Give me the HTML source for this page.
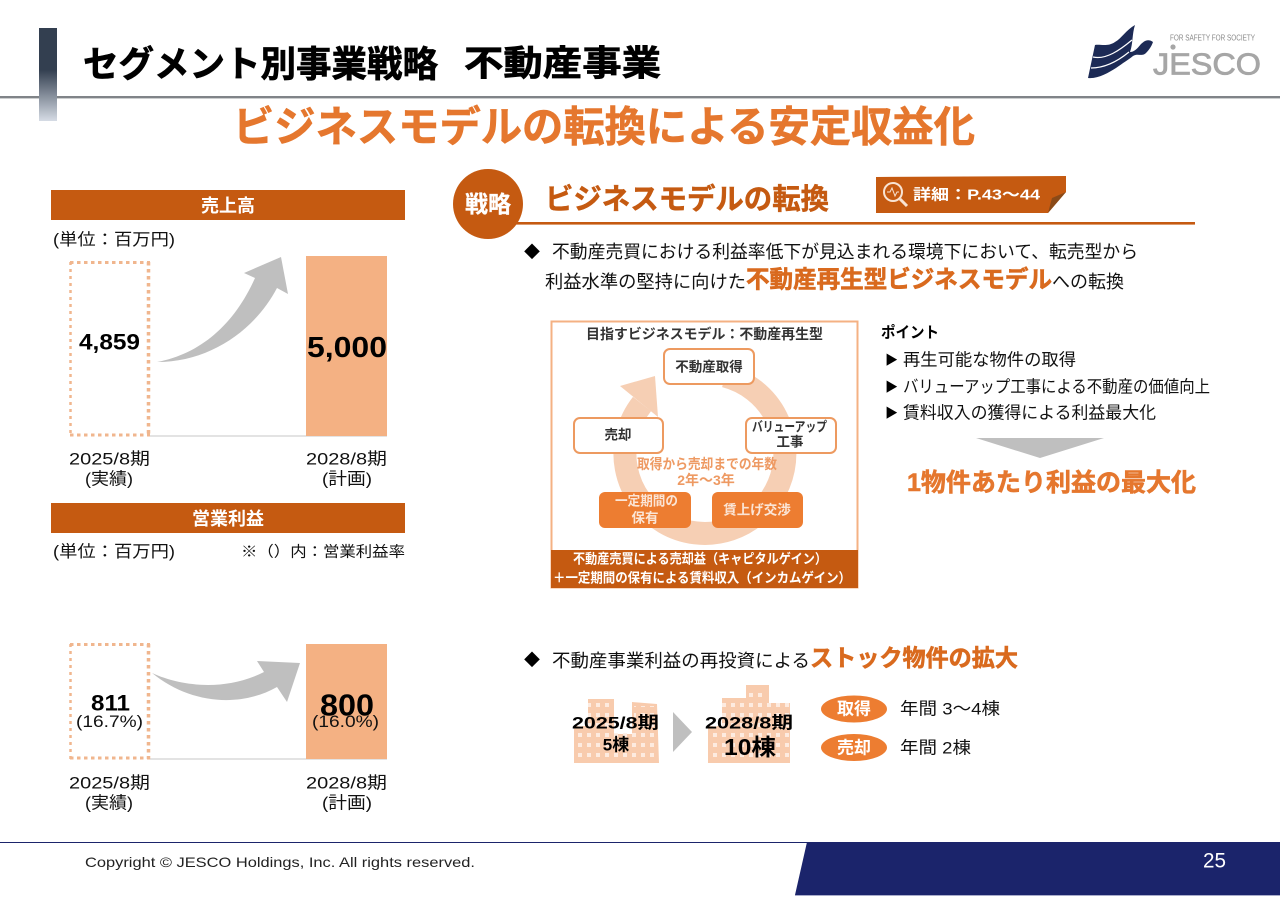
<!DOCTYPE html>
<html lang="ja">
<head>
<meta charset="utf-8">
<title>セグメント別事業戦略 不動産事業</title>
<style>
html,body{margin:0;padding:0;background:#fff;width:1280px;height:904px;overflow:hidden}
svg{display:block;position:absolute;left:0;top:0}
text{font-family:"Liberation Sans","Noto Sans CJK JP",sans-serif;dominant-baseline:central;fill:#111;transform:translateY(1px)}
.b{font-weight:700}
.o{fill:#E5772E;font-weight:700}
.d{fill:#C55A11;font-weight:700}
.w{fill:#fff;font-weight:700}
.hk{stroke:#000;stroke-width:.7}
.ho{stroke:#E5772E;stroke-width:.6}
.hr{stroke:#D96A1E;stroke-width:.6}
.hd{stroke:#C55A11;stroke-width:.5}
.hw{stroke:#fff;stroke-width:.3}
</style>
</head>
<body>
<svg width="1280" height="904" viewBox="0 0 1280 904" xmlns="http://www.w3.org/2000/svg">
<defs>
<linearGradient id="g" x1="0" y1="0" x2="0" y2="1">
<stop offset="0" stop-color="#333F50"/><stop offset=".45" stop-color="#333F50"/><stop offset="1" stop-color="#D6DCE5"/>
</linearGradient>
<pattern id="win" x="0" y="0" width="9" height="10" patternUnits="userSpaceOnUse">
<rect x="2" y="3" width="4" height="4" fill="#FDEFE6"/>
</pattern>
</defs>

<!-- header -->
<rect x="0" y="96" width="1280" height="2.4" fill="#808488"/>
<rect x="39" y="28" width="18" height="93" fill="url(#g)"/>
<text class="b hk" x="83" y="63" font-size="36" style="fill:#000" textLength="355" lengthAdjust="spacingAndGlyphs">セグメント別事業戦略</text>
<text class="b hk" x="464" y="63" font-size="35" style="fill:#000" textLength="197" lengthAdjust="spacingAndGlyphs">不動産事業</text>
<text class="o ho" x="233" y="126" font-size="42" textLength="742" lengthAdjust="spacingAndGlyphs">ビジネスモデルの転換による安定収益化</text>

<!-- logo -->
<path d="M1135 25 C1126 30 1122 38 1115 42 C1108 47 1100 44 1095 45 L1088 78 C1098 79 1108 73 1116 68 C1123 63 1128 60 1133 56 C1138 53 1142 57 1146 53 C1150 49 1152 45 1153 42 C1149 39 1145 40 1141 44 C1137 49 1134 52 1130 52 C1133 44 1132 34 1135 25 Z" fill="#1C2A55"/>
<path d="M1093 57 C1106 60 1120 50 1132 40 M1091 68 C1105 68 1118 61 1129 52" stroke="#fff" stroke-width="1.2" fill="none"/>
<text x="1170" y="37" font-size="8" style="fill:#888" textLength="85" lengthAdjust="spacingAndGlyphs">FOR SAFETY FOR SOCIETY</text>
<circle cx="1173" cy="47" r="2.6" fill="#A6A6A6"/>
<text x="1153" y="63" font-size="31" style="fill:#A6A6A6;stroke:#A6A6A6;stroke-width:.8" textLength="108" lengthAdjust="spacingAndGlyphs">JESCO</text>

<!-- left: sales -->
<rect x="51" y="190" width="354" height="30" fill="#C55A11"/>
<text class="w" x="228" y="205" font-size="18" text-anchor="middle" style="fill:#fff">売上高</text>
<text x="53" y="239" font-size="16.5" textLength="122" lengthAdjust="spacingAndGlyphs">(単位：百万円)</text>
<line x1="150" y1="436" x2="387" y2="436" stroke="#DADADA" stroke-width="1.5"/>
<g fill="none" stroke="#F0B68E">
<line x1="70.5" y1="262" x2="70.5" y2="436" stroke-width="2.5" stroke-dasharray="3 4"/>
<line x1="70" y1="262.5" x2="150" y2="262.5" stroke-width="3" stroke-dasharray="3.5 3.5"/>
<line x1="70" y1="435" x2="150" y2="435" stroke-width="3" stroke-dasharray="3.5 3.5"/>
<line x1="148.5" y1="262" x2="148.5" y2="436" stroke-width="3.5" stroke-dasharray="3.5 3.5"/>
</g>
<rect x="306" y="256" width="81" height="180" fill="#F4B183"/>
<path d="M157 362 C200 354 234 325 255 278 L244 273 L281 257 L288 294 L277 288 C255 330 210 362 157 362 Z" fill="#BFBFBF"/>
<text class="b" x="79" y="341" font-size="22" style="fill:#000" textLength="61" lengthAdjust="spacingAndGlyphs">4,859</text>
<text class="b" x="307" y="347" font-size="29" style="fill:#000" textLength="80" lengthAdjust="spacingAndGlyphs">5,000</text>
<text x="69" y="458" font-size="17" textLength="81" lengthAdjust="spacingAndGlyphs">2025/8期</text>
<text x="85" y="478" font-size="17" textLength="48" lengthAdjust="spacingAndGlyphs">(実績)</text>
<text x="306" y="458" font-size="17" textLength="81" lengthAdjust="spacingAndGlyphs">2028/8期</text>
<text x="322" y="478" font-size="17" textLength="50" lengthAdjust="spacingAndGlyphs">(計画)</text>

<!-- left: profit -->
<rect x="51" y="503" width="354" height="30" fill="#C55A11"/>
<text class="w" x="228" y="518" font-size="18" text-anchor="middle" style="fill:#fff">営業利益</text>
<text x="53" y="551" font-size="16.5" textLength="122" lengthAdjust="spacingAndGlyphs">(単位：百万円)</text>
<text x="241" y="551" font-size="15" textLength="164" lengthAdjust="spacingAndGlyphs">※（）内：営業利益率</text>
<line x1="150" y1="759" x2="387" y2="759" stroke="#DADADA" stroke-width="1.5"/>
<g fill="none" stroke="#F0B68E">
<line x1="70.5" y1="644" x2="70.5" y2="759" stroke-width="2.5" stroke-dasharray="3 4"/>
<line x1="70" y1="644.5" x2="150" y2="644.5" stroke-width="3" stroke-dasharray="3.5 3.5"/>
<line x1="70" y1="758" x2="150" y2="758" stroke-width="3" stroke-dasharray="3.5 3.5"/>
<line x1="148.5" y1="644" x2="148.5" y2="759" stroke-width="3.5" stroke-dasharray="3.5 3.5"/>
</g>
<rect x="306" y="644" width="81" height="115" fill="#F4B183"/>
<path d="M152 673 C180 686 225 692 264 672 L257 661 L300 663 L287 702 L277 687 C240 708 190 704 152 673 Z" fill="#BFBFBF"/>
<text class="b" x="91" y="702" font-size="22" style="fill:#000" textLength="39" lengthAdjust="spacingAndGlyphs">811</text>
<text x="76" y="721" font-size="16.5" textLength="67" lengthAdjust="spacingAndGlyphs">(16.7%)</text>
<text class="b" x="320" y="704" font-size="31" style="fill:#000" textLength="54" lengthAdjust="spacingAndGlyphs">800</text>
<text x="312" y="721" font-size="16.5" textLength="67" lengthAdjust="spacingAndGlyphs">(16.0%)</text>
<text x="69" y="782" font-size="17" textLength="81" lengthAdjust="spacingAndGlyphs">2025/8期</text>
<text x="85" y="802" font-size="17" textLength="48" lengthAdjust="spacingAndGlyphs">(実績)</text>
<text x="306" y="782" font-size="17" textLength="81" lengthAdjust="spacingAndGlyphs">2028/8期</text>
<text x="322" y="802" font-size="17" textLength="50" lengthAdjust="spacingAndGlyphs">(計画)</text>

<!-- right heading -->
<rect x="500" y="222" width="695" height="2.6" fill="#C55A11"/>
<circle cx="488" cy="204" r="35" fill="#C55A11"/>
<text class="w hw" x="465" y="203" font-size="23" style="fill:#fff" textLength="46" lengthAdjust="spacingAndGlyphs">戦略</text>
<text class="d hd" x="545" y="199" font-size="29" textLength="284" lengthAdjust="spacingAndGlyphs">ビジネスモデルの転換</text>
<path d="M876 177 L1066 176 L1066 192 L1048 213 L876 213 Z" fill="#C55A11"/>
<path d="M1048 213 L1052 198 L1066 192 Z" fill="#8A4A18"/>
<circle cx="893" cy="192" r="9" fill="none" stroke="#F8E3D3" stroke-width="2"/>
<line x1="900" y1="199" x2="907" y2="206" stroke="#F8E3D3" stroke-width="3"/>
<path d="M887 192 L890 192 L892 188 L895 196 L897 192 L899 192" fill="none" stroke="#F8E3D3" stroke-width="1"/>
<text class="w" x="913" y="194" font-size="15" style="fill:#fff" textLength="127" lengthAdjust="spacingAndGlyphs">詳細：P.43～44</text>

<!-- bullet 1 -->
<text x="524" y="252" font-size="16" style="fill:#000">◆</text>
<text x="552" y="251" font-size="18" textLength="586" lengthAdjust="spacingAndGlyphs">不動産売買における利益率低下が見込まれる環境下において、転売型から</text>
<text x="545" y="281" font-size="18" textLength="201" lengthAdjust="spacingAndGlyphs">利益水準の堅持に向けた</text>
<text class="o hr" x="746" y="279" font-size="24" textLength="306" lengthAdjust="spacingAndGlyphs" style="fill:#D96A1E">不動産再生型ビジネスモデル</text>
<text x="1052" y="281" font-size="18" textLength="72" lengthAdjust="spacingAndGlyphs">への転換</text>

<!-- diagram -->
<rect x="551.5" y="321.5" width="306" height="266" fill="#fff" stroke="#F4B183" stroke-width="2"/>
<text class="b" x="586" y="333" font-size="14" style="fill:#333" textLength="237" lengthAdjust="spacingAndGlyphs">目指すビジネスモデル：不動産再生型</text>
<path d="M725 376 A80 80 0 1 1 642 404" fill="none" stroke="#F6CFB4" stroke-width="23"/>
<path d="M655 376 L620 386 L658 417 Z" fill="#F6CFB4"/>
<rect x="664" y="349" width="90" height="35" rx="6" fill="#fff" stroke="#ED9A60" stroke-width="2"/>
<text class="b" x="709" y="366" font-size="13.500" text-anchor="middle" style="fill:#333">不動産取得</text>
<rect x="574" y="418" width="89" height="35" rx="6" fill="#fff" stroke="#ED9A60" stroke-width="2"/>
<text class="b" x="618" y="434" font-size="13.500" text-anchor="middle" style="fill:#333">売却</text>
<rect x="746" y="418" width="90" height="35" rx="6" fill="#fff" stroke="#ED9A60" stroke-width="2"/>
<text class="b" x="752" y="426" font-size="13.500" style="fill:#333" textLength="75" lengthAdjust="spacingAndGlyphs">バリューアップ</text>
<text class="b" x="790" y="441" font-size="13.500" text-anchor="middle" style="fill:#333">工事</text>
<text class="b" x="637" y="463" font-size="14" style="fill:#EE9A63" textLength="140" lengthAdjust="spacingAndGlyphs">取得から売却までの年数</text>
<text class="b" x="706" y="479" font-size="14" text-anchor="middle" style="fill:#EE9A63">2年～3年</text>
<rect x="599" y="492" width="92" height="36" rx="6" fill="#ED7D31"/>
<text class="b" x="615" y="500" font-size="13.500" style="fill:#FBE5D6" textLength="63" lengthAdjust="spacingAndGlyphs">一定期間の</text>
<text class="b" x="645" y="517" font-size="13.500" text-anchor="middle" style="fill:#FBE5D6">保有</text>
<rect x="712" y="492" width="91" height="36" rx="6" fill="#ED7D31"/>
<text class="b" x="757" y="509" font-size="13.500" text-anchor="middle" style="fill:#FBE5D6">賃上げ交渉</text>
<rect x="551" y="550" width="307" height="38" fill="#C55A11"/>
<text class="w" x="573" y="558" font-size="13.500" style="fill:#fff" textLength="254" lengthAdjust="spacingAndGlyphs">不動産売買による売却益（キャピタルゲイン）</text>
<text class="w" x="553" y="577" font-size="13.500" style="fill:#fff" textLength="298" lengthAdjust="spacingAndGlyphs">＋一定期間の保有による賃料収入（インカムゲイン）</text>

<!-- points -->
<text class="b" x="881" y="332" font-size="15.500" style="fill:#000" textLength="58" lengthAdjust="spacingAndGlyphs">ポイント</text>
<text x="885" y="359" font-size="13" style="fill:#000">▶</text>
<text x="903" y="359" font-size="17" textLength="173" lengthAdjust="spacingAndGlyphs">再生可能な物件の取得</text>
<text x="885" y="386" font-size="13" style="fill:#000">▶</text>
<text x="903" y="386" font-size="17" textLength="307" lengthAdjust="spacingAndGlyphs">バリューアップ工事による不動産の価値向上</text>
<text x="885" y="412" font-size="13" style="fill:#000">▶</text>
<text x="903" y="412" font-size="17" textLength="253" lengthAdjust="spacingAndGlyphs">賃料収入の獲得による利益最大化</text>
<path d="M976 438 L1104 438 L1040 458 Z" fill="#BFBFBF"/>
<text class="o ho" x="907" y="482" font-size="25" textLength="289" lengthAdjust="spacingAndGlyphs">1物件あたり利益の最大化</text>

<!-- bullet 2 -->
<text x="524" y="660" font-size="16" style="fill:#000">◆</text>
<text x="552" y="660" font-size="18" textLength="258" lengthAdjust="spacingAndGlyphs">不動産事業利益の再投資による</text>
<text class="o hr" x="810" y="657" font-size="23.500" textLength="208" lengthAdjust="spacingAndGlyphs" style="fill:#D96A1E">ストック物件の拡大</text>

<!-- buildings -->
<g fill="#F8CBAD">
<rect x="574" y="726" width="16" height="37"/>
<rect x="588" y="699" width="26" height="64"/>
<rect x="614" y="734" width="18" height="29"/>
<path d="M632 702 L657 704 L659 763 L632 763 Z"/>
<rect x="708" y="726" width="14" height="37"/>
<rect x="722" y="698" width="24" height="65"/>
<rect x="746" y="685" width="23" height="78"/>
<rect x="769" y="703" width="21" height="60"/>
</g>
<g fill="url(#win)">
<rect x="574" y="726" width="85" height="37" opacity=".9"/>
<rect x="588" y="700" width="24" height="26" opacity=".9"/>
<rect x="634" y="706" width="22" height="20" opacity=".9"/>
<rect x="708" y="726" width="82" height="37" opacity=".9"/>
<rect x="722" y="700" width="68" height="26" opacity=".9"/>
<rect x="747" y="688" width="20" height="12" opacity=".9"/>
</g>
<path d="M673 712 L692 732 L673 752 Z" fill="#BFBFBF"/>
<text class="b" x="572" y="722" font-size="17" style="fill:#000" textLength="87" lengthAdjust="spacingAndGlyphs">2025/8期</text>
<text class="b" x="616" y="744" font-size="17" text-anchor="middle" style="fill:#000">5棟</text>
<text class="b" x="705" y="722" font-size="17" style="fill:#000" textLength="88" lengthAdjust="spacingAndGlyphs">2028/8期</text>
<text class="b" x="724" y="746" font-size="23" style="fill:#000" textLength="52" lengthAdjust="spacingAndGlyphs">10棟</text>
<ellipse cx="854" cy="709" rx="33" ry="13.500" fill="#ED7D31"/>
<text class="w" x="854" y="708" font-size="17" text-anchor="middle" style="fill:#fff">取得</text>
<ellipse cx="854" cy="747.500" rx="33" ry="13.500" fill="#ED7D31"/>
<text class="w" x="854" y="747" font-size="17" text-anchor="middle" style="fill:#fff">売却</text>
<text x="900" y="708" font-size="17" textLength="100" lengthAdjust="spacingAndGlyphs">年間 3～4棟</text>
<text x="900" y="747" font-size="17" textLength="71" lengthAdjust="spacingAndGlyphs">年間 2棟</text>

<!-- footer -->
<rect x="0" y="842" width="810" height="1" fill="#1B246B"/>
<path d="M807 842 L1280 842 L1280 895 L795 895 Z" fill="#1B246B"/>
<rect x="795" y="895" width="485" height="1" fill="#A9ACCB"/>
<text x="85" y="861" font-size="14" style="fill:#222" textLength="390" lengthAdjust="spacingAndGlyphs">Copyright © JESCO Holdings, Inc.  All rights reserved.</text>
<text x="1203" y="860" font-size="21" style="fill:#fff" textLength="23" lengthAdjust="spacingAndGlyphs">25</text>
</svg>
</body>
</html>
